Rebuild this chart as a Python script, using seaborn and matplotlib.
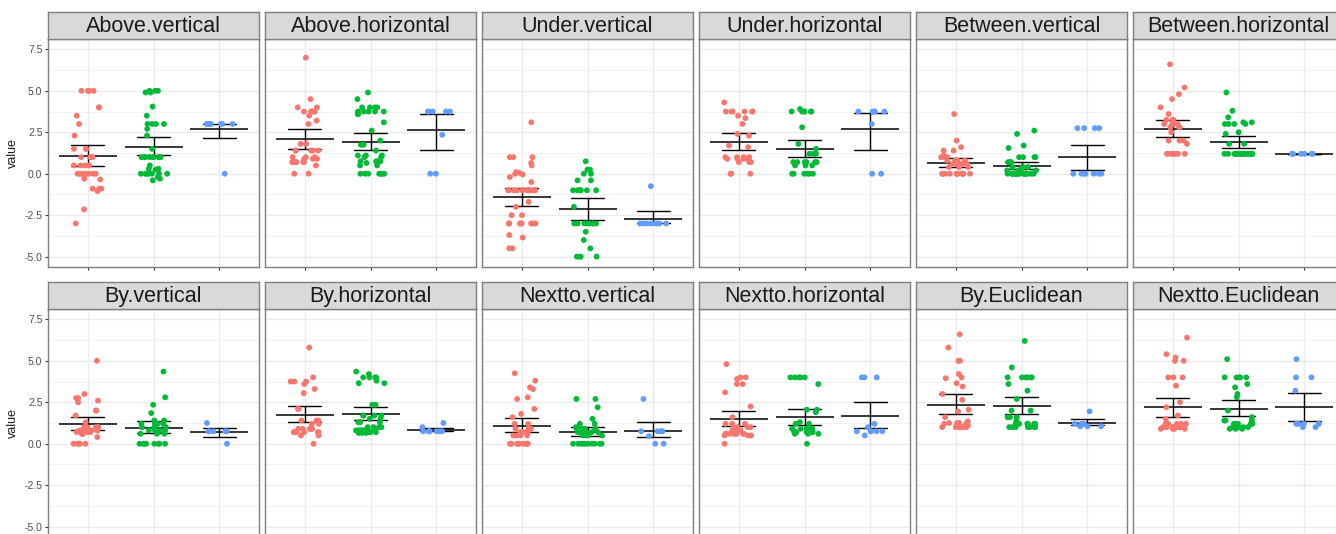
"""
Faceted strip plot of values per group with mean and bootstrap 95% CI
Outputs out.png
"""

import matplotlib.pyplot as plt
import numpy as np
import pandas as pd
import seaborn as sns

sns.set_theme(style='white')
plt.rcParams['font.family'] = ['Liberation Sans', 'DejaVu Sans']

groups = ['1', '2', '3']
colors = ['#F8766D', '#00BA38', '#619CFF']
yticks = [-5.0, -2.5, 0.0, 2.5, 5.0, 7.5]
yminor = [-3.75, -1.25, 1.25, 3.75, 6.25]

above_vertical = (
    [5, 5, 5, 5, 4, 4, 3.5, 3, 2.3, 1.5, 1.5, 1.5, 1, 1, 1, 1, 0.5, 0.5,
     0.5, 0.5, 0, 0, 0, 0, 0, 0, 0, 0, -0.3, -0.35, -0.9, -0.9, -0.9,
     -1.05, -2.15, -3],
    [5, 5, 5, 4.9, 4.9, 4.05, 3.5, 3, 3, 3, 3, 2.7, 2.3, 1.5, 1, 1, 1, 1,
     1, 1, 1, 1, 1, 1, 0.5, 0.3, 0.3, 0.25, 0, 0, 0, 0, 0, 0, 0, -0.2,
     -0.3, -0.4],
    [3, 3, 3, 3, 3, 3, 3, 3, 3, 3, 0],
)
above_horizontal = (
    [7, 4.5, 4, 4, 3.75, 3.75, 3.75, 3.75, 3.75, 3.5, 3.2, 3, 1.8, 1.8,
     1.4, 1.4, 1.4, 1.4, 1.4, 1, 1, 1, 0.9, 0.9, 0.9, 0.7, 0.7, 0.7, 0.7,
     0.7, 0.5, 0, 0],
    [4.9, 4.5, 4, 4, 4, 4, 3.75, 3.75, 3.75, 3.75, 3.75, 3.6, 3.6, 3.1,
     2.6, 2, 1.75, 1.75, 1.4, 1.1, 1.1, 1.1, 1, 1, 0.75, 0.75, 0.75, 0.75,
     0.65, 0.65, 0.5, 0.5, 0, 0, 0, 0, 0, 0, 0],
    [3.75, 3.75, 3.75, 3.75, 3.75, 2.35, 0, 0],
)
under_vertical = (
    [3.1, 1, 1, 1, 0.65, 0.5, 0.1, 0, 0.05, -0.05, -0.2, -0.5, -1, -1, -1,
     -1, -1, -1, -1, -1, -1, -1, -1, -1.7, -2, -2.5, -2.5, -3, -3, -3, -3,
     -3, -3, -3, -3, -3, -3.7, -3.85, -4.5, -4.5],
    [0.75, 0.25, 0.25, 0, 0, -0.4, -0.4, -1, -1, -1, -1, -1, -1, -1, -2,
     -3, -3, -3, -3, -3, -3, -3, -3, -3.5, -4, -4.5, -5, -5, -5, -5],
    [-0.75, -3, -3, -3, -3, -3, -3, -3, -3],
)
under_horizontal = (
    [4.3, 3.75, 3.75, 3.75, 3.75, 3.75, 3.75, 3.5, 3.35, 3, 2.4, 2.3, 1.7,
     1.6, 1, 1, 1, 1, 0.9, 0.9, 0.9, 0.9, 0.7, 0.7, 0.7, 0, 0, 0],
    [3.9, 3.75, 3.75, 3.75, 3.75, 3.75, 3.75, 2.8, 1.8, 1.5, 1.2, 1.2, 1.2,
     0.7, 0.7, 0.7, 0.7, 0.7, 0.7, 0.5, 0.5, 0.5, 0, 0, 0, 0, 0, 0],
    [3.75, 3.75, 3.75, 3.75, 3.75, 3, 0, 0],
)
between_vertical = (
    [3.6, 2, 1.6, 1.4, 1.4, 1.1, 1, 1, 1, 0.8, 0.8, 0.8, 0.8, 0.8, 0.6,
     0.6, 0.6, 0.6, 0.4, 0.4, 0.4, 0, 0, 0, 0, 0, 0, 0, 0, 0, 0, 0, 0],
    [2.6, 2.4, 1.7, 1.55, 1, 1, 1, 1, 0.7, 0.7, 0.7, 0.4, 0.4, 0.4, 0.4,
     0.2, 0.2, 0.2, 0.2, 0, 0, 0, 0, 0, 0, 0, 0, 0, 0, 0, 0, 0, 0, 0, 0,
     0, 0],
    [2.75, 2.75, 2.75, 2.75, 0, 0, 0, 0, 0, 0, 0],
)
between_horizontal = (
    [6.6, 5.2, 4.8, 4.5, 4, 3.6, 3.25, 3.25, 3.25, 3, 3, 3, 3, 2.8, 2.8,
     2.8, 2.5, 2, 2, 2, 1.8, 1.2, 1.2, 1.2, 1.2, 1.2, 1.2, 1.2, 1.2],
    [4.9, 3.8, 3.4, 3.1, 3.1, 3, 3, 3, 3, 2.5, 2.4, 1.8, 1.8, 1.2, 1.2,
     1.2, 1.2, 1.2, 1.2, 1.2, 1.2, 1.2, 1.2, 1.2, 1.2, 1.2, 1.2, 1.2, 1.2,
     1.2, 1.2, 1.2, 1.2],
    [1.2, 1.2, 1.2, 1.2, 1.2, 1.2],
)
by_vertical = (
    [5, 3, 2.75, 2.75, 2.6, 2.5, 2, 2, 1.7, 1.3, 1, 1, 1, 1, 0.8, 0.8, 0.8,
     0.8, 0.8, 0.8, 0.7, 0.7, 0.7, 0.7, 0.6, 0.6, 0.6, 0.4, 0, 0, 0, 0, 0],
    [4.35, 2.8, 2.35, 1.85, 1.4, 1.4, 1.2, 1.2, 1.2, 1.2, 1, 1, 1, 0.8,
     0.8, 0.8, 0.8, 0.6, 0.6, 0.6, 0, 0, 0, 0, 0, 0, 0, 0],
    [1.25, 0.75, 0.75, 0.75, 0.75, 0.75, 0],
)
by_horizontal = (
    [5.8, 4, 3.75, 3.75, 3.75, 3.6, 3.3, 3.05, 2.1, 2.1, 1.4, 1.4, 1.4,
     1.2, 1.2, 0.9, 0.9, 0.9, 0.9, 0.9, 0.9, 0.7, 0.7, 0.7, 0.7, 0.7, 0.7,
     0.5, 0.5, 0],
    [4.35, 4.2, 4, 4, 4, 4, 3.8, 3.65, 3.65, 2.35, 2.35, 1.7, 1.7, 1.7,
     1.7, 1.5, 1.5, 1.3, 1.3, 1.3, 1, 1, 1, 1, 1, 0.8, 0.8, 0.8, 0.8, 0.8,
     0.8, 0.8, 0.8, 0.7, 0.7, 0.7, 0.65, 0.65, 0.65],
    [1.25, 1, 0.75, 0.75, 0.75, 0.75, 0.75, 0.75, 0.75],
)
nextto_vertical = (
    [4.25, 3.8, 3.4, 3.3, 2.8, 2.7, 2.1, 1.8, 1.6, 1.2, 1.2, 0.9, 0.9, 0.9,
     0.7, 0.7, 0.7, 0.7, 0.5, 0.5, 0.5, 0.5, 0, 0, 0, 0, 0, 0, 0, 0, 0, 0,
     0],
    [2.7, 2.7, 2.2, 1.5, 1.2, 1.2, 1, 0.9, 0.9, 0.9, 0.9, 0.7, 0.7, 0.7,
     0.7, 0.7, 0.5, 0.5, 0.5, 0.5, 0, 0, 0, 0, 0, 0, 0, 0, 0, 0],
    [2.7, 0.75, 0.75, 0.75, 0.75, 0.75, 0.45, 0, 0],
)
nextto_horizontal = (
    [4.8, 4, 4, 3.9, 3.6, 3.6, 3.1, 2.25, 1.6, 1.2, 1.2, 1.2, 1, 1, 1, 1,
     0.8, 0.8, 0.8, 0.8, 0.8, 0.6, 0.6, 0.6, 0.6, 0.6, 0.6, 0.6, 0.6, 0.5,
     0.5, 0.5, 0],
    [4, 4, 4, 4, 4, 3.6, 2.05, 2.05, 1.9, 1.3, 1.2, 1.2, 0.9, 0.9, 0.9,
     0.9, 0.9, 0.9, 0.7, 0.7, 0.7, 0.7, 0.7, 0.7, 0.6, 0.6, 0.6, 0],
    [4, 4, 4, 1.2, 1, 0.75, 0.75, 0.75, 0.75, 0.75, 0.5],
)
by_euclidean = (
    [6.6, 5.8, 5, 5, 4.2, 3.95, 4, 3.65, 3.45, 3, 2.65, 2.05, 1.95, 1.6,
     1.35, 1.25, 1.25, 1.25, 1.2, 1.2, 1.1, 1.1, 1.1, 1, 1, 1, 1, 1, 1, 1],
    [6.2, 4.6, 4, 4, 4, 4, 4, 4, 3.6, 3.2, 2.7, 2, 2, 1.6, 1.6, 1.6, 1.4,
     1.2, 1.2, 1.2, 1.2, 1.2, 1.2, 1, 1, 1, 1, 1, 1, 1],
    [1.95, 1.2, 1.2, 1.2, 1.2, 1.05, 1.05, 1.05],
)
nextto_euclidean = (
    [6.4, 5.4, 5.2, 5, 5, 4, 4, 4, 3.5, 2.5, 2.2, 1.7, 1.5, 1.2, 1.2, 1.2,
     1.2, 1.2, 1, 1, 1, 1, 1, 1, 1, 1, 1, 1, 0.9, 0.9, 0.9, 0.9],
    [5.1, 4, 4, 4, 4, 4, 3.6, 3.4, 3, 2.8, 2, 1.6, 1.4, 1.4, 1.4, 1.2, 1.2,
     1.2, 1.2, 1.2, 1, 1, 1, 1, 1, 0.9, 0.9, 0.9],
    [5.1, 4, 4, 3.2, 1.2, 1.2, 1.2, 1.2, 1.2, 1, 1],
)

panels = [
    ('Above.vertical', above_vertical),
    ('Above.horizontal', above_horizontal),
    ('Under.vertical', under_vertical),
    ('Under.horizontal', under_horizontal),
    ('Between.vertical', between_vertical),
    ('Between.horizontal', between_horizontal),
    ('By.vertical', by_vertical),
    ('By.horizontal', by_horizontal),
    ('Nextto.vertical', nextto_vertical),
    ('Nextto.horizontal', nextto_horizontal),
    ('By.Euclidean', by_euclidean),
    ('Nextto.Euclidean', nextto_euclidean),
]

W, H = 1336, 534
BORDER = '#7F7F7F'


def main():
    np.random.seed(3)
    rows = []
    for name, vals in panels:
        for g, v in zip(groups, vals):
            rows += [(name, g, x) for x in v]
    df = pd.DataFrame(rows, columns=['panel', 'group', 'value'])

    fig = plt.figure(figsize=(W / 100, H / 100), dpi=100)

    for i, (name, _) in enumerate(panels):
        r, c = divmod(i, 6)
        left = 48 + 217 * c
        top = 39 if r == 0 else 309
        ax = fig.add_axes([left / W, 1 - (top + 228) / H, 211 / W, 228 / H])
        sax = fig.add_axes([left / W, 1 - top / H, 211 / W, 27 / H])

        sub = df[df['panel'] == name]
        sns.stripplot(data=sub, x='group', y='value', hue='group',
                      order=groups, hue_order=groups, palette=colors,
                      jitter=0.22, size=4.2, linewidth=0, legend=False,
                      ax=ax)
        sns.pointplot(data=sub, x='group', y='value', order=groups,
                      color='black', markers='_', markersize=42,
                      markeredgewidth=1.1, linestyle='none',
                      errorbar=('ci', 95), capsize=0.5, seed=1,
                      err_kws={'linewidth': 1.0}, ax=ax)

        ax.set_xlim(-0.6, 2.6)
        ax.set_ylim(-5.625, 8.125)
        ax.set_yticks(yticks)
        ax.set_yticks(yminor, minor=True)
        ax.set_axisbelow(True)
        ax.grid(True, which='major', color='#EBEBEB', lw=1.0)
        ax.grid(True, which='minor', color='#F0F0F0', lw=0.6)
        ax.set_xticklabels([])
        ax.set_xlabel('')
        ax.tick_params(axis='x', which='major', length=2.5, width=0.8,
                       color='#333333', bottom=True)
        ax.tick_params(which='minor', length=0)
        if c == 0:
            ax.set_yticklabels([f'{t:.1f}' for t in yticks])
            ax.tick_params(axis='y', which='major', length=2.5, width=0.8,
                           color='#333333', left=True, labelsize=7.5,
                           labelcolor='#4D4D4D', pad=1.5)
            ax.set_ylabel('value', fontsize=9, color='#1A1A1A', labelpad=4)
        else:
            ax.set_yticklabels([])
            ax.tick_params(axis='y', length=0)
            ax.set_ylabel('')
        for sp in ax.spines.values():
            sp.set_color(BORDER)
            sp.set_linewidth(1.0)

        sax.set_facecolor('#D9D9D9')
        sax.set_xticks([])
        sax.set_yticks([])
        for sp in sax.spines.values():
            sp.set_color(BORDER)
            sp.set_linewidth(1.0)
        sax.text(0.5, 0.45, name, ha='center', va='center', fontsize=15.5,
                 color='#1A1A1A', transform=sax.transAxes)

    fig.savefig('out.png', dpi=100, facecolor='white')


if __name__ == '__main__':
    main()
